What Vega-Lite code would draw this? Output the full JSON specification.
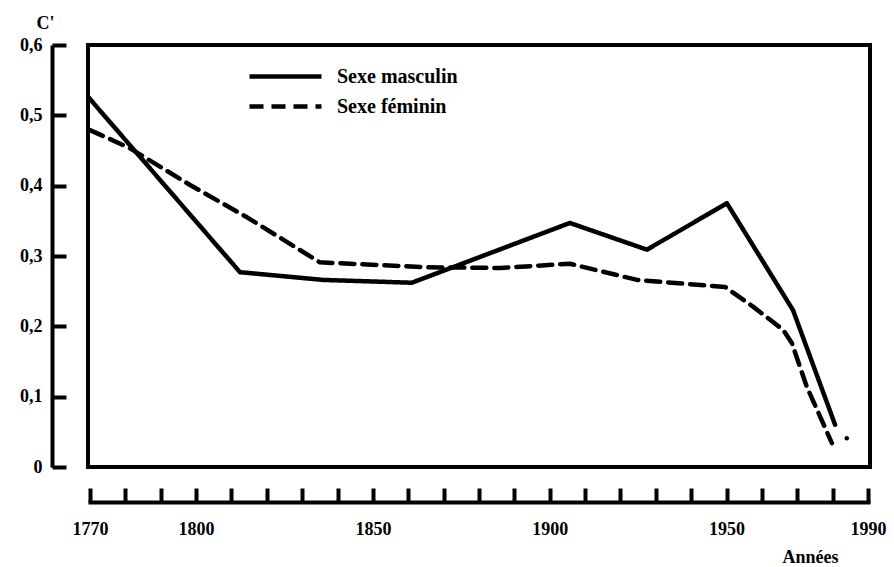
{
  "$schema": "https://vega.github.io/schema/vega-lite/v6.json",
  "width": 782,
  "height": 422,
  "autosize": {"type": "none"},
  "padding": {"left": 88, "top": 45, "right": 24, "bottom": 100},
  "background": "white",
  "config": {
    "view": {"stroke": "black", "strokeWidth": 4},
    "font": "Liberation Serif",
    "axis": {"grid": false}
  },
  "layer": [
    {
      "data": {
        "values": [
          {"year": 1769.5, "value": 0.526, "sexe": "Sexe masculin"},
          {"year": 1812.4, "value": 0.277, "sexe": "Sexe masculin"},
          {"year": 1835.9, "value": 0.266, "sexe": "Sexe masculin"},
          {"year": 1861, "value": 0.262, "sexe": "Sexe masculin"},
          {"year": 1905.7, "value": 0.347, "sexe": "Sexe masculin"},
          {"year": 1927.5, "value": 0.309, "sexe": "Sexe masculin"},
          {"year": 1950.1, "value": 0.375, "sexe": "Sexe masculin"},
          {"year": 1968.8, "value": 0.223, "sexe": "Sexe masculin"},
          {"year": 1980.7, "value": 0.06, "sexe": "Sexe masculin"},
          {"year": 1770, "value": 0.479, "sexe": "Sexe féminin"},
          {"year": 1781, "value": 0.454, "sexe": "Sexe féminin"},
          {"year": 1798.3, "value": 0.401, "sexe": "Sexe féminin"},
          {"year": 1814.4, "value": 0.355, "sexe": "Sexe féminin"},
          {"year": 1835, "value": 0.291, "sexe": "Sexe féminin"},
          {"year": 1865, "value": 0.284, "sexe": "Sexe féminin"},
          {"year": 1886, "value": 0.283, "sexe": "Sexe féminin"},
          {"year": 1905.7, "value": 0.289, "sexe": "Sexe féminin"},
          {"year": 1924.7, "value": 0.266, "sexe": "Sexe féminin"},
          {"year": 1949.6, "value": 0.256, "sexe": "Sexe féminin"},
          {"year": 1957.5, "value": 0.228, "sexe": "Sexe féminin"},
          {"year": 1966, "value": 0.195, "sexe": "Sexe féminin"},
          {"year": 1968.5, "value": 0.176, "sexe": "Sexe féminin"},
          {"year": 1972.7, "value": 0.114, "sexe": "Sexe féminin"},
          {"year": 1979.8, "value": 0.034, "sexe": "Sexe féminin"}
        ]
      },
      "mark": {"type": "line", "color": "black", "strokeWidth": 4.5, "strokeCap": "round", "strokeJoin": "round"},
      "encoding": {
        "x": {
          "field": "year",
          "type": "quantitative",
          "scale": {"domain": [1769.43, 1990.57], "nice": false, "zero": false},
          "axis": {
            "orient": "bottom",
            "offset": 35,
            "values": [1770, 1780, 1790, 1800, 1810, 1820, 1830, 1840, 1850, 1860, 1870, 1880, 1890, 1900, 1910, 1920, 1930, 1940, 1950, 1960, 1970, 1980, 1990],
            "tickCount": 40,
            "labelExpr": "indexof([1770,1800,1850,1900,1950,1990], datum.value) >= 0 ? format(datum.value, 'd') : ''",
            "labelOverlap": false,
            "labelFlush": false,
            "labelBound": false,
            "labelFont": "Liberation Serif",
            "labelFontWeight": "bold",
            "labelFontSize": 18,
            "labelColor": "black",
            "labelPadding": 32,
            "tickSize": -14,
            "tickWidth": 4,
            "tickColor": "black",
            "domainWidth": 4,
            "domainColor": "black",
            "title": "Années",
            "titleFont": "Liberation Serif",
            "titleFontWeight": "bold",
            "titleFontSize": 18,
            "titleColor": "black",
            "titleX": 722,
            "titleY": 60,
            "titleAlign": "center",
            "titleBaseline": "alphabetic"
          }
        },
        "y": {
          "field": "value",
          "type": "quantitative",
          "scale": {"domain": [0, 0.6], "nice": false},
          "axis": {
            "orient": "left",
            "offset": 36,
            "values": [0, 0.1, 0.2, 0.3, 0.4, 0.5, 0.6],
            "tickCount": 20,
            "labelExpr": "datum.value == 0 ? '0' : replace(format(datum.value, '.1f'), '.', ',')",
            "labelFont": "Liberation Serif",
            "labelFontWeight": "bold",
            "labelFontSize": 18,
            "labelColor": "black",
            "labelPadding": 24,
            "labelFlush": false,
            "labelBound": false,
            "labelOverlap": false,
            "tickSize": -14,
            "tickWidth": 4,
            "tickColor": "black",
            "domainWidth": 4,
            "domainColor": "black",
            "title": "C'",
            "titleFont": "Liberation Serif",
            "titleFontWeight": "bold",
            "titleFontSize": 18,
            "titleColor": "black",
            "titleAngle": 0,
            "titleX": -7,
            "titleY": -17,
            "titleAlign": "center",
            "titleBaseline": "alphabetic"
          }
        },
        "strokeDash": {
          "field": "sexe",
          "type": "nominal",
          "scale": {"domain": ["Sexe masculin", "Sexe féminin"], "range": [[1, 0], [14, 8]]},
          "legend": {
            "title": null,
            "orient": "none",
            "legendX": 186,
            "legendY": 20,
            "symbolType": "M-4,0H4",
            "symbolSize": 324,
            "symbolStrokeWidth": 4.5,
            "symbolStrokeColor": "black",
            "symbolFillColor": "transparent",
            "labelFont": "Liberation Serif",
            "labelFontWeight": "bold",
            "labelFontSize": 20,
            "labelColor": "black",
            "labelOffset": 40,
            "rowPadding": 8
          }
        }
      }
    },
    {
      "data": {"values": [{"year": 1984, "value": 0.041}]},
      "mark": {"type": "circle", "color": "black", "size": 20, "opacity": 1},
      "encoding": {
        "x": {"field": "year", "type": "quantitative"},
        "y": {"field": "value", "type": "quantitative"}
      }
    }
  ]
}
